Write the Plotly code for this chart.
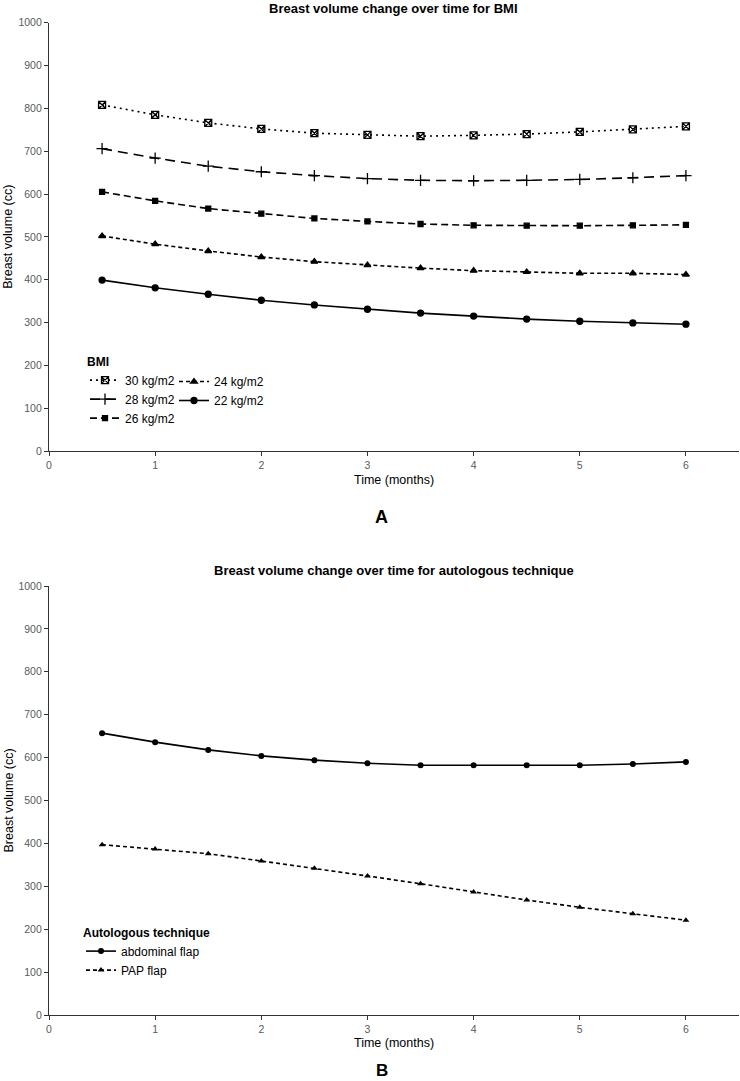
import plotly.graph_objects as go

time = [0.5, 1, 1.5, 2, 2.5, 3, 3.5, 4, 4.5, 5, 5.5, 6]

bmi_30 = [808, 785, 766, 752, 742, 738, 735, 737, 740, 745, 751, 758]
bmi_28 = [706, 684, 665, 652, 643, 636, 632, 631, 632, 634, 638, 643]
bmi_26 = [605, 584, 566, 554, 543, 536, 530, 527, 526, 526, 527, 528]
bmi_24 = [502, 483, 467, 453, 442, 434, 427, 421, 418, 415, 415, 412]
bmi_22 = [399, 381, 366, 352, 341, 331, 322, 315, 308, 303, 299, 296]

abdominal = [657, 636, 618, 604, 594, 587, 582, 582, 582, 582, 585, 590]
pap = [397, 387, 376, 359, 342, 324, 306, 287, 268, 251, 236, 221]

x_ticks = [0, 1, 2, 3, 4, 5, 6]
y_ticks = list(range(0, 1001, 100))

FONT = "Arial, Liberation Sans, sans-serif"
W, H = 740, 1081
L, R = 49, 1

fig = go.Figure()

bmi_series = [
    ("30 kg/m2", bmi_30, "2px,4px", "square-x-open", 7, "legend"),
    ("28 kg/m2", bmi_28, "10px,6px", "cross-thin-open", 8, "legend"),
    ("26 kg/m2", bmi_26, "7px,4px", "square", 5, "legend"),
    ("24 kg/m2", bmi_24, "4px,3px", "triangle-up", 6, "legend3"),
    ("22 kg/m2", bmi_22, "solid", "circle", 6, "legend3"),
]
for name, vals, dash, sym, size, leg in bmi_series:
    fig.add_trace(go.Scatter(
        x=time, y=vals, name=name, mode="lines+markers",
        line=dict(color="black", width=1.6, dash=dash),
        marker=dict(symbol=sym, size=size, color="black",
                    line=dict(color="black", width=1.3)),
        xaxis="x", yaxis="y", legend=leg,
    ))

tech_series = [
    ("abdominal flap", abdominal, "solid", "circle", 6),
    ("PAP flap", pap, "4px,3px", "triangle-up", 6),
]
for name, vals, dash, sym, size in tech_series:
    fig.add_trace(go.Scatter(
        x=time, y=vals, name=name, mode="lines+markers",
        line=dict(color="black", width=1.6, dash=dash),
        marker=dict(symbol=sym, size=size, color="black"),
        xaxis="x2", yaxis="y2", legend="legend2",
    ))

def py(p):
    return 1 - p / H

def px_x(p):
    return (p - L) / (W - L - R)

axis_common = dict(
    showgrid=False, zeroline=False, showline=True, linecolor="#333333",
    linewidth=1.2, ticks="outside", ticklen=4, tickcolor="#333333",
    tickfont=dict(family=FONT, size=10.5, color="#5a5a5a"),
    automargin=False,
)

leg_font = dict(family=FONT, size=12, color="black")
fig.update_layout(
    width=W, height=H, template="none",
    paper_bgcolor="white", plot_bgcolor="white",
    margin=dict(l=L, r=R, t=0, b=0),
    font=dict(family=FONT, color="black"),
    xaxis=dict(domain=[0, 1], range=[0, 6.5], anchor="y", tickvals=x_ticks, **axis_common),
    yaxis=dict(domain=[py(451), py(22.7)], range=[0, 1000], anchor="x", tickvals=y_ticks, **axis_common),
    xaxis2=dict(domain=[0, 1], range=[0, 6.5], anchor="y2", tickvals=x_ticks, **axis_common),
    yaxis2=dict(domain=[py(1015), py(586)], range=[0, 1000], anchor="x2", tickvals=y_ticks, **axis_common),
    legend=dict(
        orientation="v", x=px_x(85), y=py(350), xanchor="left", yanchor="top",
        bgcolor="rgba(0,0,0,0)",
        title=dict(text="<b>BMI</b>", side="top", font=dict(family=FONT, size=12)),
        font=leg_font, traceorder="normal", tracegroupgap=0,
    ),
    legend3=dict(
        orientation="v", x=px_x(174), y=py(367), xanchor="left", yanchor="top",
        bgcolor="rgba(0,0,0,0)",
        font=leg_font, traceorder="normal", tracegroupgap=0,
    ),
    legend2=dict(
        orientation="v", x=px_x(81), y=py(921), xanchor="left", yanchor="top",
        bgcolor="rgba(0,0,0,0)",
        title=dict(text="<b>Autologous technique</b>", side="top", font=dict(family=FONT, size=12)),
        font=leg_font, traceorder="normal", tracegroupgap=0,
    ),
    showlegend=True,
)

annotations = [
    dict(text="<b>Breast volume change over time for BMI</b>", x=px_x(393.5), y=py(8), size=13),
    dict(text="<b>Breast volume change over time for autologous technique</b>", x=px_x(393.5), y=py(570), size=13),
    dict(text="Time (months)", x=px_x(393.5), y=py(480), size=12.5),
    dict(text="Time (months)", x=px_x(393.5), y=py(1043), size=12.5),
    dict(text="<b>A</b>", x=px_x(381.5), y=py(517), size=18),
    dict(text="<b>B</b>", x=px_x(381.5), y=py(1070), size=17),
]
for a in annotations:
    fig.add_annotation(text=a["text"], x=a["x"], y=a["y"], xref="paper", yref="paper",
                       xanchor="center", yanchor="middle", showarrow=False,
                       font=dict(family=FONT, size=a["size"], color="black"))
for yc in (236.8, 800.5):
    fig.add_annotation(text="Breast volume (cc)", x=px_x(8), y=py(yc), xref="paper", yref="paper",
                       xanchor="center", yanchor="middle", showarrow=False, textangle=-90,
                       font=dict(family=FONT, size=12.5, color="black"))

fig.write_html("out.html", config={"displayModeBar": False},
               post_script="document.body.style.margin='0';document.body.style.overflow='hidden';")
